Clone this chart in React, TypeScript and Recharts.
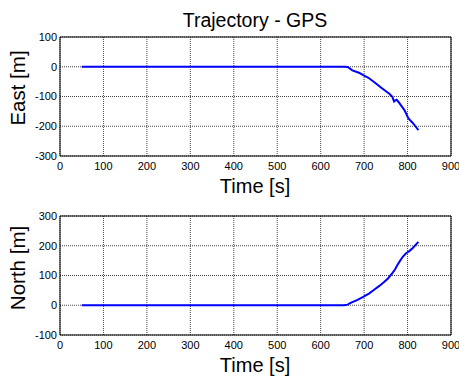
import { LineChart, Line, XAxis, YAxis, CartesianGrid, ReferenceArea } from "recharts"

// GPS trajectory
const eastTime = [50, 655, 662, 673, 688, 700, 710, 719, 728, 738, 748, 758, 765, 769, 772, 775, 780, 785, 792, 797, 801, 806, 812, 818, 825]
const eastValue = [0, 0, -1, -12, -20, -30, -37, -47, -57, -69, -80, -91, -101, -117, -113, -111, -120, -130, -144, -158, -171, -180, -189, -200, -213]

const northTime = [50, 654, 662, 669, 685, 700, 712, 723, 735, 746, 755, 765, 771, 777, 783, 789, 796, 804, 812, 818, 825]
const northValue = [0, 0, 2, 8, 18, 30, 40, 52, 65, 78, 90, 108, 120, 136, 150, 163, 174, 182, 192, 202, 213]

const timeTicks = [0, 100, 200, 300, 400, 500, 600, 700, 800, 900]
const eastTicks = [-300, -200, -100, 0, 100]
const northTicks = [-100, 0, 100, 200, 300]

const eastData = eastTime.map((t, i) => ({ t, v: eastValue[i] }))
const northData = northTime.map((t, i) => ({ t, v: northValue[i] }))

const font = "'Liberation Sans', Arial, Helvetica, sans-serif"

function Panel({ data, ticks }: { data: { t: number; v: number }[]; ticks: number[] }) {
  const yMin = ticks[0]
  const yMax = ticks[ticks.length - 1]
  return (
    <LineChart width={459} height={188} data={data} margin={{ top: 37, right: 8, left: 0, bottom: 0 }}>
      <CartesianGrid stroke="#444" strokeDasharray="1 1" />
      <XAxis
        dataKey="t"
        type="number"
        domain={[0, 900]}
        ticks={timeTicks}
        interval={0}
        height={32}
        tickSize={0}
        tickMargin={6}
        axisLine={false}
        tick={{ fill: "#000", fontSize: 11, fontFamily: font }}
      />
      <YAxis
        type="number"
        domain={[yMin, yMax]}
        ticks={ticks}
        interval={0}
        width={60}
        tickSize={0}
        tickMargin={3}
        axisLine={false}
        allowDataOverflow
        tick={{ fill: "#000", fontSize: 11, fontFamily: font }}
      />
      <ReferenceArea x1={0} x2={900} y1={yMin} y2={yMax} fill="none" stroke="#000" strokeWidth={1} ifOverflow="visible" />
      <Line type="linear" dataKey="v" stroke="#0000ff" strokeWidth={2} dot={false} isAnimationActive={false} />
    </LineChart>
  )
}

export default function App() {
  return (
    <div style={{ position: "absolute", left: 0, top: 0, width: 459, height: 377, background: "#fff", fontFamily: font }}>
      <div style={{ position: "absolute", left: 0, top: 0 }}>
        <Panel data={eastData} ticks={eastTicks} />
      </div>
      <div style={{ position: "absolute", left: 0, top: 179 }}>
        <Panel data={northData} ticks={northTicks} />
      </div>
      <svg width={459} height={377} style={{ position: "absolute", left: 0, top: 0, pointerEvents: "none" }}>
        <text x={255} y={27} textAnchor="middle" fontSize={19.5} fontFamily={font} fill="#000">
          Trajectory - GPS
        </text>
        <text x={255} y={193} textAnchor="middle" fontSize={20} fontFamily={font} fill="#000">
          Time [s]
        </text>
        <text x={255} y={372} textAnchor="middle" fontSize={20} fontFamily={font} fill="#000">
          Time [s]
        </text>
        <text transform="translate(25,88) rotate(-90)" textAnchor="middle" fontSize={20.5} fontFamily={font} fill="#000">
          East [m]
        </text>
        <text transform="translate(25,268) rotate(-90)" textAnchor="middle" fontSize={20.5} fontFamily={font} fill="#000">
          North [m]
        </text>
      </svg>
    </div>
  )
}
